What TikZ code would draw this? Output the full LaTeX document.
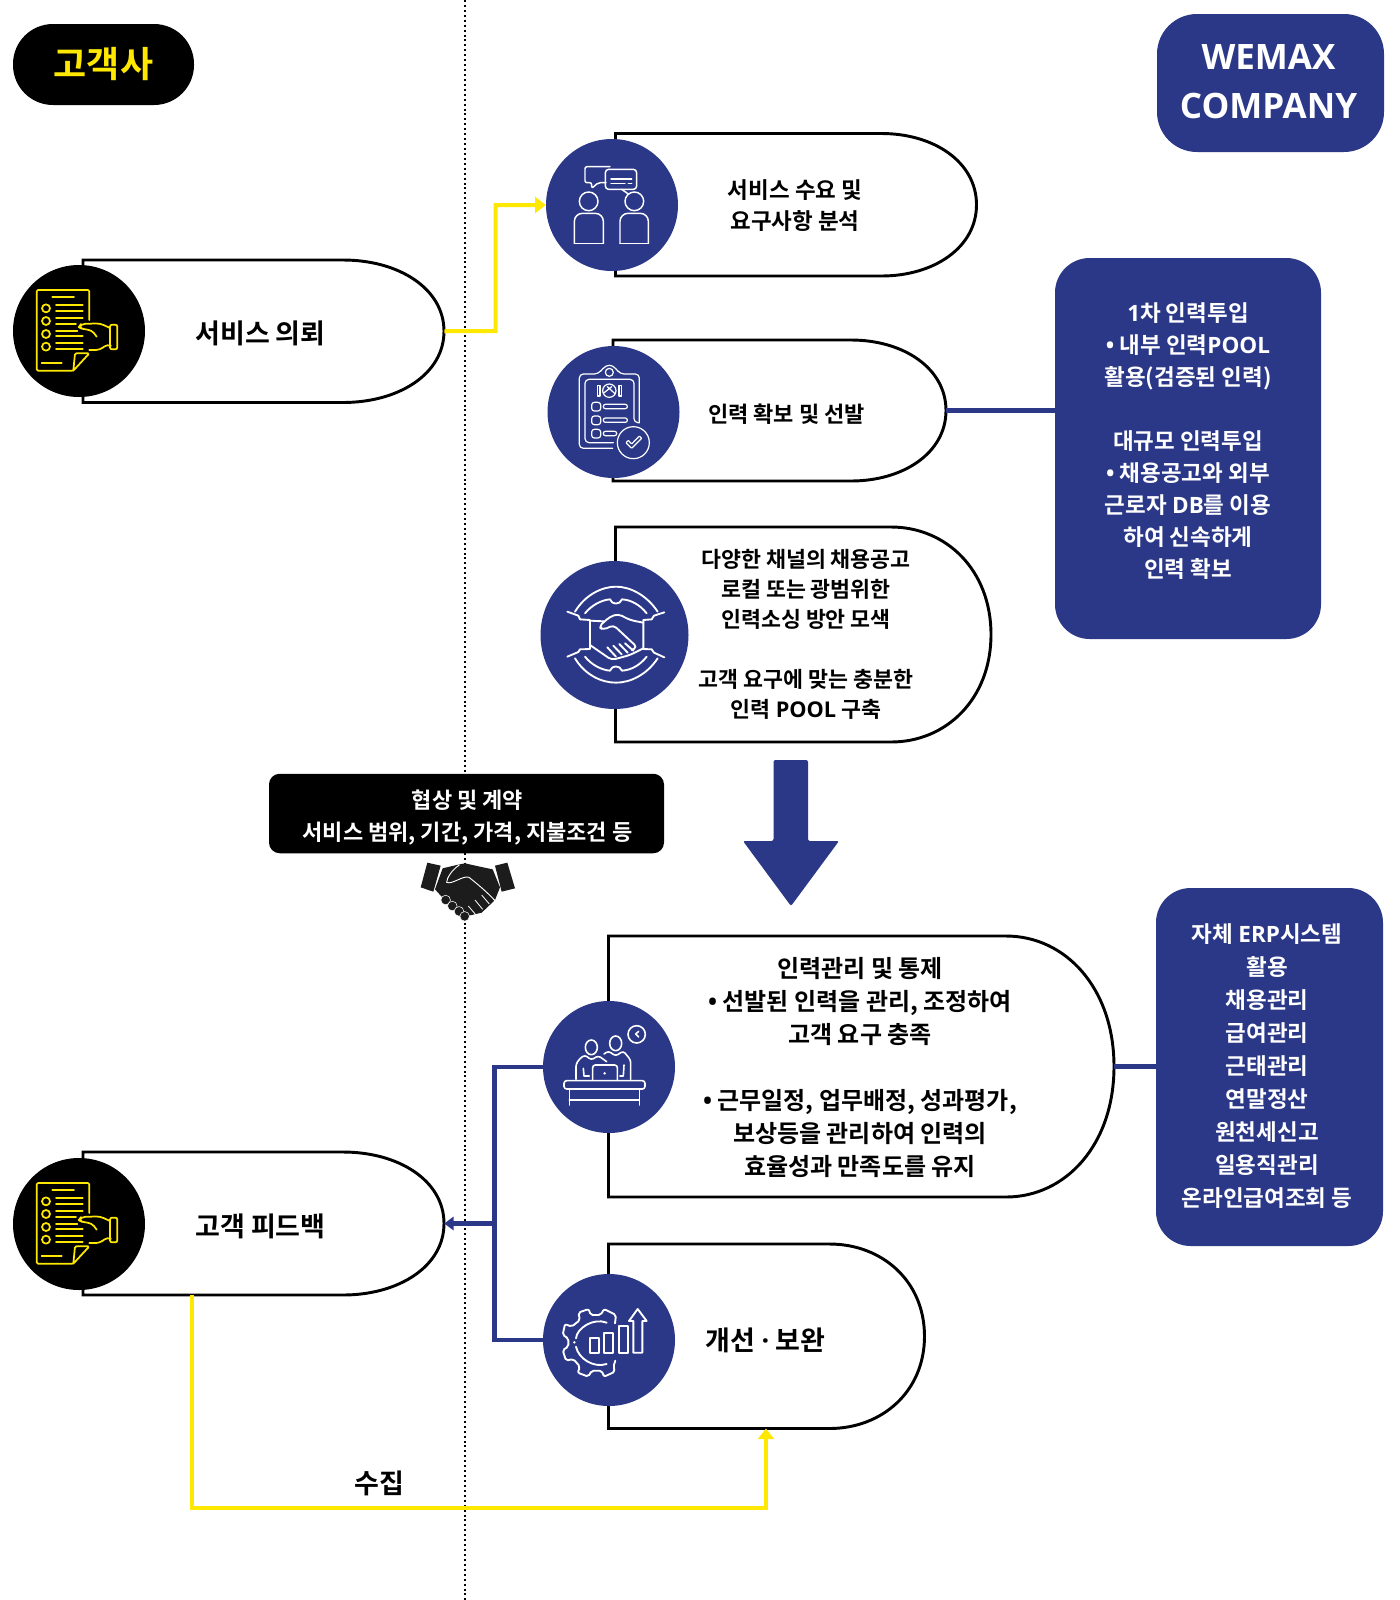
\documentclass[tikz,border=0pt]{standalone}
\usepackage{fontspec}
\setmainfont{Noto Sans CJK KR Bold}
\newfontfamily\latfam{Open Sans}
\newcommand{\lat}{\latfam\bfseries}
\usetikzlibrary{arrows.meta,fit,shapes.geometric}
\definecolor{navy}{HTML}{2B3887}
\definecolor{ylw}{HTML}{FFE800}
\definecolor{ink}{HTML}{1C1C1C}
\newcommand{\fsize}[2]{\pgfmathsetmacro{\fsa}{#1*0.75}\pgfmathsetmacro{\fsb}{#2*0.75}\fontsize{\fsa pt}{\fsb pt}\selectfont}
\newcommand{\pillshape}[6]{%
  \pgfmathsetmacro{\pxa}{#4-#6}%
  \pgfmathsetmacro{\pxb}{#4-0.448*#6}%
  \pgfmathsetmacro{\pym}{(#3+#5)/2}%
  \pgfmathsetmacro{\pyc}{#3+0.2*(#5-#3)}%
  \pgfmathsetmacro{\pyd}{#5-0.2*(#5-#3)}%
  \draw[pillline] (#2,#3) -- (\pxa,#3) .. controls (\pxb,#3) and (#4,\pyc) .. (#4,\pym)
     .. controls (#4,\pyd) and (\pxb,#5) .. (\pxa,#5) -- (#2,#5) -- cycle;
  \coordinate (#1-nw) at (#2,#3);
  \coordinate (#1-se) at (#4,#5);
  \node[fit=(#1-nw)(#1-se),inner sep=0pt] (#1) {};
}
\newcommand{\docicon}[1]{%
\begin{scope}[shift={(0,#1)},x=0.25pt,y=-0.25pt,draw=ylw,line width=1.3pt,line cap=round,line join=round]
  \draw[rounded corners=1pt] (268,240) -- (268,150) -- (110,150) -- (110,392) -- (220,392) -- (268,340) -- (225,340) -- (220,392);
  \draw (157,172) -- (222,172) (125,370) -- (185,370);
  \foreach \yy in {205,243,282,320} \draw (138,\yy) circle[radius=3pt];
  \draw (168,196) -- (248,196) (168,213) -- (248,213) (168,235) -- (248,235) (168,252) -- (228,252)
        (168,272) -- (232,272) (168,289) -- (248,289) (168,310) -- (248,310) (168,327) -- (248,327);
  \draw[rounded corners=1.5pt] (330,254) rectangle (352,328);
  \draw[rounded corners=3pt] (330,264) -- (300,250) -- (243,252) -- (236,262) -- (250,268) -- (275,270) -- (290,290);
  \draw[rounded corners=3pt] (268,330) -- (300,330) -- (322,312) -- (330,316);
\end{scope}}
\tikzset{
  pillline/.style={draw=black,line width=2.2pt,fill=white},
  navydisc/.style={circle,fill=navy,inner sep=0pt,minimum size=132*0.75pt},
  blackdisc/.style={circle,fill=black,inner sep=0pt,minimum size=132*0.75pt},
  panel/.style={rectangle,fill=navy,inner sep=0pt,rounded corners=26pt},
  label/.style={align=center,inner sep=0pt,text=black},
  iconline/.style={draw=white,line width=1.1pt,line cap=round,line join=round},
  navyconn/.style={draw=navy,line width=3.2pt},
  yellowconn/.style={draw=ylw,line width=3pt},
}
\begin{document}
\begin{tikzpicture}[x=0.75pt,y=-0.75pt]
\useasboundingbox (0,0) rectangle (1400,1600);
\fill[white] (0,0) rectangle (1400,1600);
% separator
\coordinate (sepT) at (465,0);
\coordinate (sepB) at (465,1600);
\draw[black,line width=1.4pt,dash pattern=on 1.5pt off 2.2pt] (sepT) -- (sepB);
% pills
\pillshape{pA}{83}{260}{444}{402.5}{101}
\pillshape{pB}{615.5}{133.5}{976.5}{276}{95}
\pillshape{pC}{613}{340}{946}{481}{95}
\pillshape{pD}{615.5}{527}{991}{742}{100}
\pillshape{pE}{608.5}{936}{1114}{1197}{108}
\pillshape{pF}{608.5}{1244}{924.5}{1428.5}{95}
\pillshape{pG}{83}{1152}{444}{1295}{101}
% discs
\node[blackdisc] (cA) at (79,331) {};
\node[navydisc] (cB) at (612,205) {};
\node[navydisc] (cC) at (613.5,412) {};
\node[navydisc,minimum size=148*0.75pt] (cD) at (614.5,635) {};
\node[navydisc] (cE) at (609,1067) {};
\node[navydisc] (cF) at (609,1340) {};
\node[blackdisc] (cG) at (79,1224) {};
% header tags and panels
\node[rectangle,fill=black,inner sep=0pt,rounded corners=30pt,minimum width=181*0.75pt,minimum height=81*0.75pt,text=ylw,font=\fsize{36}{40}] (tagA) at (103.5,64.5) {고객사};
\node[panel,rounded corners=30pt,minimum width=227*0.75pt,minimum height=138*0.75pt] (tagB) at (1270.5,83) {};
\node[label,text=white,font=\lat\fsize{35}{49}] (tagBt) at (1268.5,81.5) {WEMAX\\COMPANY};
\node[panel,minimum width=266*0.75pt,minimum height=381*0.75pt] (boxA) at (1188,448.5) {};
\node[label,text=white,font=\fsize{22.5}{32}] (boxAt) at (1188,441) {{\lat 1}차 인력투입\\{\lat •} 내부 인력{\lat POOL}\\활용(검증된 인력)\\[24pt]대규모 인력투입\\{\lat •} 채용공고와 외부\\근로자 {\lat DB}를 이용\\하여 신속하게\\인력 확보};
\node[panel,minimum width=227*0.75pt,minimum height=358*0.75pt] (boxB) at (1269.5,1067) {};
\node[label,text=white,font=\fsize{22.5}{33}] (boxBt) at (1267,1066.5) {자체 {\lat ERP}시스템\\활용\\채용관리\\급여관리\\근태관리\\연말정산\\원천세신고\\일용직관리\\온라인급여조회 등};
\node[rectangle,fill=black,inner sep=0pt,rounded corners=8pt,minimum width=395*0.75pt,minimum height=79.5*0.75pt] (nego) at (466.5,813.5) {};
\node[label,text=white,font=\fsize{22}{31.5}] (negot) at (467.5,817.5) {협상 및 계약\\서비스 범위, 기간, 가격, 지불조건 등};
% pill labels
\node[label,font=\fsize{27}{30}] (tA) at (260.5,333.5) {서비스 의뢰};
\node[label,font=\fsize{22.5}{31}] (tB) at (795,205.5) {서비스 수요 및\\요구사항 분석};
\node[label,font=\fsize{22}{30}] (tC) at (786.5,414) {인력 확보 및 선발};
\node[label,font=\fsize{21.7}{30}] (tD) at (806,634.5) {다양한 채널의 채용공고\\로컬 또는 광범위한\\인력소싱 방안 모색\\[22.5pt]고객 요구에 맞는 충분한\\인력 {\lat POOL} 구축};
\node[label,font=\fsize{24}{33}] (tE) at (860,1067.5) {인력관리 및 통제\\{\lat •} 선발된 인력을 관리, 조정하여\\고객 요구 충족\\[24.75pt]{\lat •} 근무일정, 업무배정, 성과평가,\\보상등을 관리하여 인력의\\효율성과 만족도를 유지};
\node[label,font=\fsize{27}{30}] (tF) at (765.5,1340.5) {개선 {\lat ·} 보완};
\node[label,font=\fsize{27}{30}] (tG) at (260.5,1226) {고객 피드백};
\node[label,font=\fsize{27}{30}] (tH) at (379,1483.5) {수집};
% connectors
\draw[yellowconn,-{Triangle[length=8pt,width=12pt]}] (pA.east) -- (495.5,331) |- (cB.west);
\draw[navyconn] (pC.east) -- (boxA.west |- pC.east);
\draw[navyconn] (pE.east) -- (boxB.west |- pE.east);
\coordinate (junc) at (494.5,1223.5);
\draw[navyconn] (cE.west) -| (junc) |- (cF.west);
\draw[navyconn,-{Triangle[length=7pt,width=10pt]}] (junc) -- (pG.east);
\coordinate (fbS) at (192,1295);
\coordinate (fbT) at (766,1428.5);
\draw[yellowconn,-{Triangle[length=8pt,width=12pt]}] (fbS) -- (192,1508) -| (fbT);
% big arrow
\fill[navy,rounded corners=1.5pt] (773.5,760) -- (808,760) -- (808,841) -- (839,841) -- (791,906) -- (743,841) -- (773.5,841) -- cycle;
% doc icons
\docicon{240}
\docicon{1133}
% people chat
\begin{scope}[shift={(530,120)},x=0.25pt,y=-0.25pt,iconline]
  \draw[rounded corners=1.5pt] (240,140) -- (165,140) -- (165,188) -- (185,188) -- (185,205) -- (205,188) -- (228,188);
  \draw[rounded corners=2.5pt] (226,148) rectangle (320,208);
  \draw (275,208) -- (295,222);
  \draw (243,177) -- (305,177) (243,191) -- (285,191) (295,191) -- (305,191);
  \draw (176,244) circle[radius=7pt] (313,244) circle[radius=7pt];
  \draw[rounded corners=6pt] (133,370) -- (133,280) -- (220,280) -- (220,370);
  \draw (133,370) -- (220,370);
  \draw[rounded corners=6pt] (270,370) -- (270,280) -- (355,280) -- (355,370);
  \draw (270,370) -- (355,370);
\end{scope}
% clipboard
\begin{scope}[shift={(530,120)},x=0.25pt,y=-0.25pt,iconline,line width=0.9pt]
  \draw[rounded corners=3pt] (248,985) -- (148,985) -- (148,762) -- (205,762) -- (218,745) -- (238,732) -- (258,745) -- (270,762) -- (328,762) -- (328,908);
  \draw[rounded corners=3pt] (250,968) -- (165,968) -- (165,778) -- (312,778) -- (312,908) -- (328,908);
  \draw (238,757) circle[radius=3pt];
  \draw (310,968) circle[radius=12pt];
  \draw[rounded corners=0.5pt] (288,968) -- (305,985) -- (335,955) -- (328,948) -- (305,972) -- (295,961) -- cycle;
  \foreach \yy/\bb in {847/292,888/292,928/260} {
    \draw[rounded corners=2pt] (185,\yy) rectangle (212,\yy+26);
    \draw[rounded corners=1.5pt] (220,\yy+6) rectangle (\bb,\yy+19);
  }
  \draw (203,797) rectangle (210,828) (267,797) rectangle (274,828);
  \draw (238,812) circle[radius=5pt] (220,820) -- (245,800) (232,800) -- (256,822);
\end{scope}
% ring handshake
\begin{scope}[shift={(530,550)},x=0.25pt,y=-0.25pt,iconline,line width=1.4pt]
  \draw (135,185) .. controls (165,135) and (215,110) .. (258,110) .. controls (300,110) and (350,135) .. (383,185);
  \draw (135,325) .. controls (165,375) and (215,398) .. (258,398) .. controls (300,398) and (350,375) .. (383,325);
  \draw (165,190) .. controls (185,165) and (215,150) .. (240,148) .. controls (245,165) and (270,165) .. (276,148) .. controls (305,150) and (330,165) .. (350,190);
  \draw (165,320) .. controls (185,345) and (215,360) .. (240,362) .. controls (245,345) and (270,345) .. (276,362) .. controls (305,360) and (330,345) .. (350,320);
  \draw (112,185) -- (145,197) -- (150,208) -- (180,210) -- (180,297) -- (150,298) -- (145,306) -- (112,320);
  \draw (403,187) -- (372,197) -- (365,208) -- (340,210) -- (340,297) -- (365,298) -- (372,308) -- (403,322);
  \draw (180,212) -- (222,214);
  \draw[rounded corners=3pt] (340,218) -- (300,210) -- (265,192) -- (240,200) -- (206,230) -- (220,240) -- (250,225) -- (322,292) -- (305,300);
  \draw[rounded corners=3pt] (180,285) -- (245,330) -- (300,315) -- (340,295);
  \draw (232,292) -- (258,320) (250,287) -- (275,313) (268,282) -- (293,308) (285,280) -- (310,302);
\end{scope}
% black handshake
\begin{scope}[shift={(400,850)},x=0.25pt,y=-0.25pt]
  \fill[ink] (82,38) -- (122,47) -- (100,125) -- (62,112) -- cycle;
  \fill[ink] (285,47) -- (322,38) -- (345,115) -- (305,125) -- cycle;
  \fill[ink] (128,55) -- (170,45) -- (195,40) -- (240,50) -- (278,58) -- (300,112) -- (285,150) -- (245,188) -- (215,195) -- (190,200) -- (165,180) -- (125,140) -- (105,118) -- cycle;
  \foreach \fx/\fy in {137/150,157/168,177/184,194/199}
    \draw[fill=ink,draw=white,line width=0.4pt] (\fx,\fy) circle[radius=3.6pt];
  \draw[white,line width=0.7pt,line cap=round,line join=round] (178,45) .. controls (155,60) and (140,85) .. (140,97) .. controls (155,105) and (190,75) .. (207,82) .. controls (230,100) and (260,125) .. (285,152);
  \draw[white,line width=0.6pt] (205,168) -- (228,195) (225,150) -- (248,178) (245,135) -- (268,162);
\end{scope}
% desk people
\begin{scope}[shift={(530,990)},x=0.25pt,y=-0.25pt,iconline,line width=1.2pt]
  \draw (320,133) circle[radius=6.5pt];
  \draw (326,124) -- (317,132) -- (326,141);
  \draw (184,172) ellipse[x radius=18,y radius=22];
  \draw (257,160) ellipse[x radius=18,y radius=22];
  \draw[rounded corners=2pt] (138,268) -- (138,222) -- (150,205) -- (165,195) -- (184,210) -- (205,197) -- (230,215);
  \draw[rounded corners=2pt] (222,192) -- (235,183) -- (257,198) -- (280,183) -- (302,210) -- (302,268);
  \draw (160,235) -- (162,258) -- (178,258) (282,225) -- (280,258) -- (270,258);
  \draw[rounded corners=2pt] (188,270) -- (188,225) -- (262,225) -- (262,270);
  \fill[white] (224,250) circle[radius=1pt];
  \draw[rounded corners=2pt] (102,272) rectangle (345,297);
  \draw (118,297) -- (118,345) (328,297) -- (328,345) (118,330) -- (328,330);
\end{scope}
% gear chart
\begin{scope}[shift={(530,1260)},x=0.25pt,y=-0.25pt,iconline,line width=1.4pt]
  \draw[rounded corners=1.5pt] (255,190) -- (258,165) -- (222,147) -- (212,165) -- (182,165) -- (176,147) -- (145,158) -- (150,180) -- (125,200) -- (105,192) -- (98,225) -- (115,235) -- (115,260) -- (98,270) -- (108,302) -- (130,297) -- (150,320) -- (143,338) -- (175,350) -- (185,332) -- (215,332) -- (222,350) -- (255,335) -- (250,320) -- (256,302);
  \draw (230,188) .. controls (190,172) and (140,205) .. (138,235);
  \draw (138,260) .. controls (145,295) and (190,325) .. (230,312);
  \fill[white] (133,247) circle[radius=1pt];
  \draw (180,235) rectangle (206,278) (222,218) rectangle (250,278) (267,198) rectangle (295,278);
  \draw (310,278) -- (310,183) -- (297,183) -- (323,147) -- (350,183) -- (337,183) -- (337,278) -- cycle;
\end{scope}
\end{tikzpicture}
\end{document}
